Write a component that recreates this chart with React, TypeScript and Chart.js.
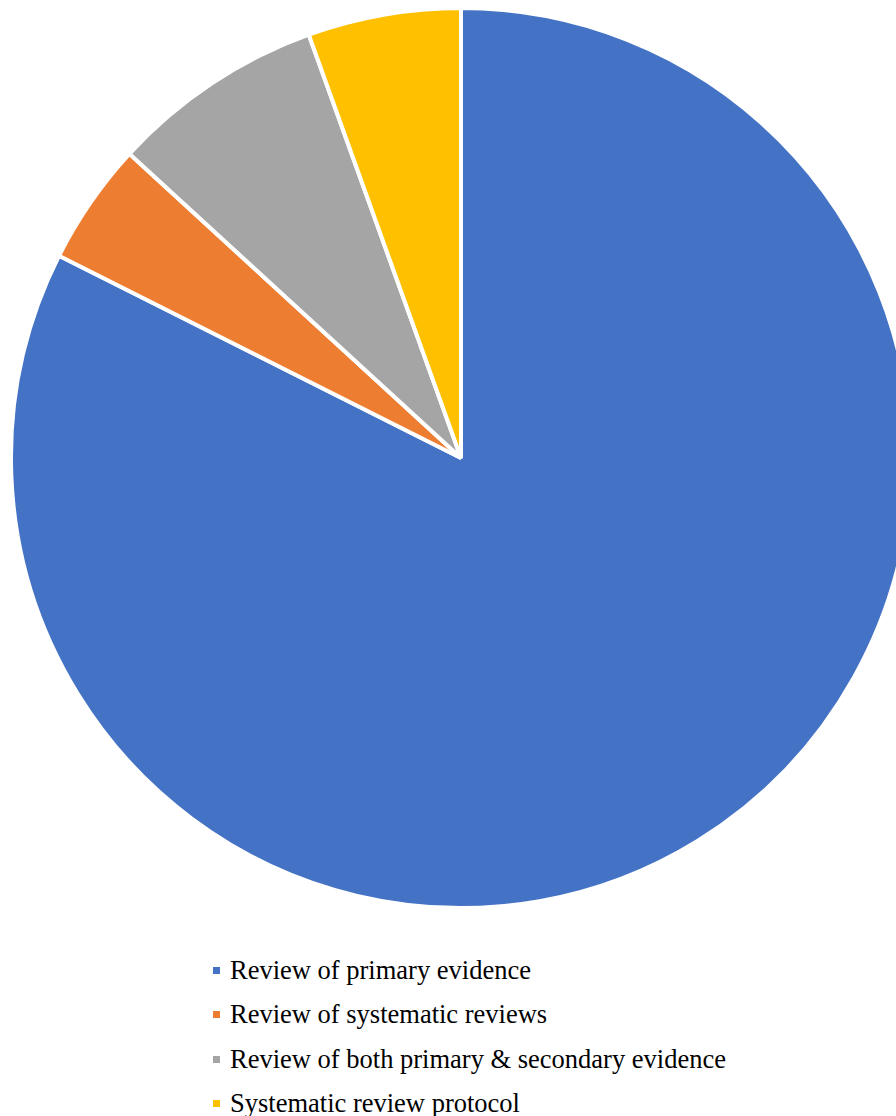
import React, { useEffect, useRef } from "react";
import { Chart, registerables } from "chart.js";

Chart.register(...registerables);

const categories = [
  "Review of primary evidence",
  "Review of systematic reviews",
  "Review of both primary & secondary evidence",
  "Systematic review protocol",
];
const counts = [75, 4, 7, 5];
const colors = ["#4472C4", "#ED7D31", "#A5A5A5", "#FFC000"];

export default function App() {
  const canvasRef = useRef<HTMLCanvasElement | null>(null);

  useEffect(() => {
    if (!canvasRef.current) return;
    const chart = new Chart(canvasRef.current, {
      type: "pie",
      data: {
        labels: categories,
        datasets: [
          {
            data: counts,
            backgroundColor: colors,
            borderColor: "#FFFFFF",
            borderWidth: 4,
          },
        ],
      },
      options: {
        responsive: false,
        animation: false,
        radius: 450,
        layout: { padding: 0 },
        plugins: {
          legend: { display: false },
          tooltip: { enabled: false },
        },
      } as any,
    });
    return () => chart.destroy();
  }, []);

  return (
    <div
      style={{
        position: "absolute",
        left: 0,
        top: 0,
        width: 896,
        height: 1116,
        overflow: "hidden",
        background: "#FFFFFF",
      }}
    >
      <canvas
        ref={canvasRef}
        width={922}
        height={916}
        style={{ position: "absolute", left: 0, top: 0, width: 922, height: 916 }}
      />
      <div style={{ position: "absolute", left: 213, top: 948 }}>
        {categories.map((c, i) => (
          <div
            key={c}
            style={{
              height: 44.5,
              display: "flex",
              alignItems: "center",
              fontFamily: '"Liberation Serif", "Times New Roman", serif',
              fontSize: 26.5,
              color: "#000000",
              whiteSpace: "nowrap",
            }}
          >
            <span
              style={{
                display: "inline-block",
                width: 7,
                height: 7,
                background: colors[i],
                marginRight: 10,
              }}
            />
            <span>{c}</span>
          </div>
        ))}
      </div>
    </div>
  );
}
